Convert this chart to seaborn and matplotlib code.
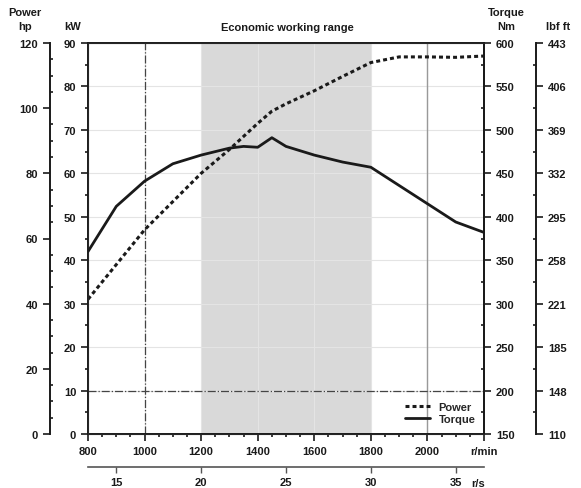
import numpy as np
import pandas as pd
import matplotlib
matplotlib.use('Agg')
import matplotlib.pyplot as plt
from matplotlib.ticker import MultipleLocator
from matplotlib.lines import Line2D
import seaborn as sns

sns.set_style('ticks')
plt.rcParams['font.family'] = ['Liberation Sans', 'DejaVu Sans']
plt.rcParams['font.weight'] = 'bold'

# engine curve
rpm = [800, 900, 1000, 1100, 1200, 1300, 1350, 1400, 1450, 1500, 1600, 1700, 1800, 1900, 2000, 2100, 2200]
power_kw = [31, 39, 47, 53.5, 60, 65.5, 68.5, 71.5, 74.3, 76, 79, 82.3, 85.5, 86.8, 86.8, 86.7, 87]
torque_nm = [360, 412, 441, 461, 471, 479, 481, 480, 491, 481, 471, 463, 457, 436, 415, 394, 382]

econ_range = (1200, 1800)
nm_ticks = [150, 200, 250, 300, 350, 400, 450, 500, 550, 600]
lbf_labels = ['110', '148', '185', '221', '258', '295', '332', '369', '406', '443']
rpm_labels = ['800', '1000', '1200', '1400', '1600', '1800', '2000', 'r/min']
rs_ticks = [15, 20, 25, 30, 35]

df = pd.DataFrame({'rpm': rpm, 'Power': power_kw, 'Torque': torque_nm})

W, H = 581, 489
fig = plt.figure(figsize=(W / 100, H / 100), dpi=100)
ax = fig.add_axes([88 / W, 1 - 435 / H, 396 / W, 391 / H])

ink = '#1a1a1a'
fs = 8

ax.axvspan(*econ_range, color='#d9d9d9', lw=0, zorder=0)
ax.grid(True, color='#e4e4e4', lw=0.8, zorder=0)
ax.axvline(1000, color='#444444', lw=0.9, ls='-.', zorder=1)
ax.axvline(2000, color='#999999', lw=1.0, zorder=1)
ax.axhline(10, color='#444444', lw=0.9, ls='-.', zorder=1)

sns.lineplot(data=df, x='rpm', y='Power', ax=ax, color=ink, lw=2.2,
             linestyle=(0, (1.3, 1.0)), zorder=3)
ax.set_xlim(800, 2200)
ax.set_ylim(0, 90)
ax.set_xlabel('')
ax.set_ylabel('')
ax.set_xticks([800, 1000, 1200, 1400, 1600, 1800, 2000, 2200])
ax.set_xticklabels(rpm_labels)
ax.xaxis.set_minor_locator(MultipleLocator(50))
ax.yaxis.set_major_locator(MultipleLocator(10))
ax.yaxis.set_minor_locator(MultipleLocator(5))
ax.tick_params(which='both', colors=ink, labelsize=fs, width=1.2)
ax.tick_params(which='major', length=5)
ax.tick_params(which='minor', length=2.5)
for s in ax.spines.values():
    s.set_color(ink)
    s.set_linewidth(1.4)

# torque (Nm) on the right spine
ax_t = ax.twinx()
sns.lineplot(data=df, x='rpm', y='Torque', ax=ax_t, color=ink, lw=2.0, zorder=3)
ax_t.set_ylim(150, 600)
ax_t.set_yticks(nm_ticks)
ax_t.yaxis.set_minor_locator(MultipleLocator(25))
ax_t.set_ylabel('')
ax_t.tick_params(which='both', colors=ink, labelsize=fs, width=1.2)
ax_t.tick_params(which='major', length=5)
ax_t.tick_params(which='minor', length=2.5, direction='in')
ax_t.spines['right'].set_linewidth(1.4)
ax_t.spines['right'].set_color(ink)

# lbf ft axis
ax_l = ax.twinx()
ax_l.spines['right'].set_position(('axes', (536 - 88) / 396))
ax_l.spines['right'].set_linewidth(1.4)
ax_l.spines['right'].set_color(ink)
ax_l.set_ylim(150, 600)
ax_l.set_yticks(nm_ticks)
ax_l.set_yticklabels(lbf_labels)
ax_l.yaxis.set_minor_locator(MultipleLocator(25))
ax_l.tick_params(which='both', colors=ink, labelsize=fs, width=1.2)
ax_l.tick_params(which='major', length=5)
ax_l.tick_params(which='minor', length=2.5, direction='in')
for k in ['top', 'bottom', 'left']:
    ax_l.spines[k].set_visible(False)

# hp axis
ax_h = ax.twinx()
ax_h.yaxis.set_ticks_position('left')
ax_h.yaxis.set_label_position('left')
ax_h.spines['left'].set_position(('axes', (50 - 88) / 396))
ax_h.spines['left'].set_visible(True)
ax_h.spines['left'].set_linewidth(1.4)
ax_h.spines['left'].set_color(ink)
for k in ['top', 'bottom', 'right']:
    ax_h.spines[k].set_visible(False)
ax_h.set_ylim(0, 120)
ax_h.yaxis.set_major_locator(MultipleLocator(20))
ax_h.yaxis.set_minor_locator(MultipleLocator(5))
ax_h.tick_params(which='both', colors=ink, labelsize=fs, width=1.2)
ax_h.tick_params(which='major', length=5)
ax_h.tick_params(which='minor', length=2.5, direction='in')

# r/s axis below
ax_r = ax.twiny()
ax_r.xaxis.set_ticks_position('bottom')
ax_r.spines['bottom'].set_position(('axes', -(468 - 435) / 391))
ax_r.spines['bottom'].set_visible(True)
ax_r.spines['bottom'].set_color('#555555')
ax_r.spines['bottom'].set_linewidth(1.2)
for k in ['top', 'left', 'right']:
    ax_r.spines[k].set_visible(False)
ax_r.set_xlim(800 / 60, 2200 / 60)
ax_r.set_xticks(rs_ticks)
ax_r.set_xticklabels([str(t) for t in rs_ticks])
ax_r.tick_params(colors='#555555', labelcolor=ink, labelsize=fs, length=4, width=1.0)
fig.text(478 / W, 1 - 484 / H, 'r/s', fontsize=fs, color=ink, ha='center', va='center')

# headers
def hdr(x, y, s):
    fig.text(x / W, 1 - y / H, s, fontsize=fs, color=ink, ha='center', va='center')

hdr(25, 13, 'Power')
hdr(25, 27, 'hp')
hdr(73, 27, 'kW')
hdr(506, 13, 'Torque')
hdr(506, 27, 'Nm')
hdr(558, 27, 'lbf ft')
hdr(287, 28, 'Economic working range')

handles = [Line2D([], [], color=ink, lw=2.2, linestyle=(0, (1.3, 1.0))),
           Line2D([], [], color=ink, lw=2.0)]
leg = ax_t.legend(handles, ['Power', 'Torque'], loc='lower right',
                  bbox_to_anchor=(480 / 396 - 88 / 396, 6 / 391), frameon=False,
                  fontsize=fs, handlelength=2.2, handletextpad=0.8,
                  labelspacing=0.15, borderaxespad=0)

fig.savefig('out.png', dpi=100, facecolor='white')
